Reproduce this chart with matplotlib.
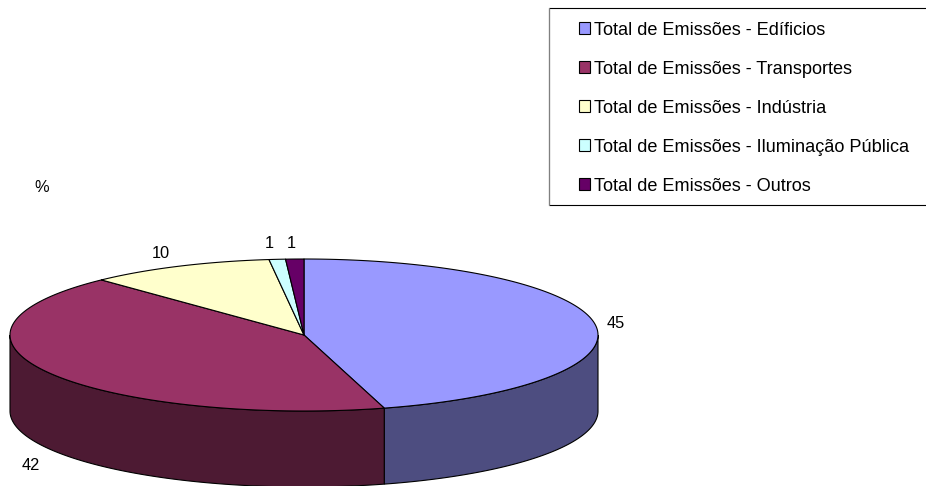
import numpy as np
import matplotlib
matplotlib.use("Agg")
import matplotlib.pyplot as plt
from matplotlib.patches import Polygon, Rectangle

categories = ["Total de Emissões - Edíficios", "Total de Emissões - Transportes",
              "Total de Emissões - Indústria", "Total de Emissões - Iluminação Pública",
              "Total de Emissões - Outros"]
values = [45.6, 42.3, 10.2, 0.9, 1.0]
value_labels = ["45", "42", "10", "1", "1"]
colors = ["#9999FF", "#993366", "#FFFFCC", "#CCFFFF", "#660066"]
side_colors = ["#4D4D80", "#4D1A33", "#80806A", "#6A8080", "#330033"]
unit = "%"

W, H = 926, 486
cx, cy, rx, ry, depth = 304, 335, 294, 76, 76
label_offsets = [(21, -1), (-18, 93), (-18, -13), (-8, -16), (-4, -16)]

plt.rcParams["font.family"] = ["Liberation Sans", "DejaVu Sans"]
fig = plt.figure(figsize=(W / 100, H / 100), dpi=100)
ax = fig.add_axes([0, 0, 1, 1])
ax.set_xlim(0, W)
ax.set_ylim(H, 0)
ax.axis("off")
LW = 0.8


def rim(deg, dy=0):
    t = np.radians(deg)
    return cx + rx * np.sin(t), cy - ry * np.cos(t) + dy


edges = np.concatenate([[0], np.cumsum(values)]) / sum(values) * 360
handles = []
# front side walls
for i in range(len(values)):
    a, b = max(edges[i], 90), min(edges[i + 1], 270)
    if b <= a:
        continue
    t = np.linspace(a, b, 200)
    x, y = rim(t)
    xb, yb = rim(t[::-1], depth)
    ax.add_patch(Polygon(np.c_[np.r_[x, xb], np.r_[y, yb]], closed=True,
                         fc=side_colors[i], ec="black", lw=LW, zorder=2))
# top wedges
for i in range(len(values)):
    t = np.linspace(edges[i], edges[i + 1], 200)
    x, y = rim(t)
    ax.add_patch(Polygon(np.c_[np.r_[cx, x], np.r_[cy, y]], closed=True,
                         fc=colors[i], ec="black", lw=LW, zorder=3, joinstyle="round"))
    handles.append(Rectangle((0, 0), 1, 1, fc=colors[i], ec="black", lw=LW))
    mx, my = rim((edges[i] + edges[i + 1]) / 2)
    ox, oy = label_offsets[i]
    ax.text(mx + ox, my + oy, value_labels[i], fontsize=11.8, ha="center", va="center",
            color="black", zorder=5)

ax.text(42, 187, unit, fontsize=11.8, ha="center", va="center", color="black")

# legend
ax.add_patch(Rectangle((548.5, 8.5), 400, 196, fc="white", ec="black", lw=LW, zorder=1))
ax.plot([548.5, 548.5], [8.5, 204.5], color="#808080", lw=LW, zorder=1.5)
leg = ax.legend(handles, categories, loc="upper left", bbox_to_anchor=(575 / W, 1 - 18 / H),
                bbox_transform=ax.transAxes, frameon=False, fontsize=13.05,
                handlelength=0.62, handleheight=0.62, handletextpad=0.22,
                labelspacing=1.215, borderpad=0.2, borderaxespad=0)
fig.savefig("out.png", dpi=100)
